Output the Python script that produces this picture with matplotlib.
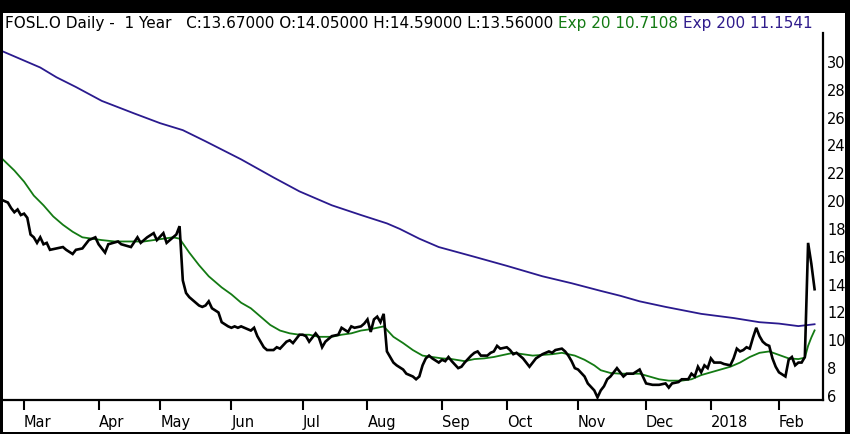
import numpy as np
import pandas as pd
import matplotlib
matplotlib.use("Agg")
import matplotlib.pyplot as plt
from matplotlib.patches import Rectangle

# ---------------- data ----------------
holidays = ["2017-02-20", "2017-04-14", "2017-05-29", "2017-07-04", "2017-09-04",
            "2017-11-23", "2017-12-25", "2018-01-01", "2018-01-15"]
start_date = "2017-02-17"
end_date = "2018-02-16"

close_day = [0, 2, 3, 4, 5, 6, 7, 8, 9, 10, 11, 12, 13, 14, 15, 17, 19, 20, 22, 23, 25, 27, 29, 30,
             32, 33, 36, 37, 40, 42, 43, 45, 47, 48, 50, 51, 53, 54, 55, 56, 57, 58, 60, 61, 62, 63,
             64, 65, 67, 68, 70, 71, 72, 73, 74, 75, 77, 78, 79, 81, 82, 84, 85, 86, 88, 89, 90, 92,
             93, 94, 95, 97, 98, 99, 100, 102, 104, 105, 107, 108, 109, 111, 112, 113, 114, 115, 116,
             117, 118, 119, 120, 121, 122, 124, 125, 127, 128, 129, 130, 131, 132, 133, 135, 136, 137,
             138, 139, 141, 142, 143, 145, 146, 147, 148, 150, 151, 152, 153, 154, 156, 157, 158, 159,
             161, 162, 163, 164, 165, 167, 168, 169, 170, 171, 173, 174, 175, 176, 177, 178, 180, 181,
             183, 184, 185, 186, 187, 188, 190, 191, 192, 193, 195, 197, 199, 201, 203, 205, 206, 207,
             209, 210, 212, 213, 214, 215, 216, 217, 218, 219, 220, 222, 223, 225, 226, 227, 228, 229,
             230, 231, 232, 233, 234, 235, 236, 237, 238, 239, 240, 242, 243, 244, 245, 246, 247, 248,
             249, 250, 251]
close_val = [20.1, 19.9, 19.5, 19.2, 19.4, 19.0, 19.1, 18.8, 17.6, 17.4, 17.0, 17.4, 16.9, 17.0, 16.5,
             16.6, 16.7, 16.5, 16.2, 16.5, 16.6, 17.2, 17.4, 16.9, 16.3, 16.9, 17.1, 16.9, 16.7, 17.4,
             17.0, 17.4, 17.7, 17.2, 17.7, 17.0, 17.4, 17.6, 18.2, 14.3, 13.4, 13.1, 12.7, 12.5, 12.4,
             12.5, 12.8, 12.3, 12.0, 11.3, 11.0, 10.9, 11.0, 10.9, 11.0, 10.9, 10.7, 10.9, 10.3, 9.5,
             9.3, 9.3, 9.5, 9.4, 9.9, 10.0, 9.8, 10.4, 10.4, 10.3, 9.9, 10.5, 10.2, 9.5, 9.9, 10.3,
             10.4, 10.9, 10.6, 11.0, 10.9, 11.0, 11.2, 11.5, 10.6, 11.5, 11.7, 11.3, 11.9, 9.2, 8.8,
             8.4, 8.2, 7.9, 7.6, 7.4, 7.2, 7.4, 8.2, 8.7, 8.9, 8.7, 8.4, 8.6, 8.5, 8.8, 8.5, 8.0, 8.1,
             8.4, 8.9, 9.1, 9.2, 8.9, 8.9, 9.1, 9.2, 9.6, 9.4, 9.5, 9.3, 9.0, 9.1, 8.7, 8.4, 8.1, 8.4,
             8.7, 9.0, 9.1, 9.2, 9.1, 9.3, 9.4, 9.2, 8.9, 8.5, 8.0, 7.9, 7.4, 6.9, 6.4, 5.9, 6.4, 6.7,
             7.2, 7.4, 8.0, 7.7, 7.4, 7.6, 7.6, 7.9, 6.9, 6.8, 6.8, 6.9, 6.6, 6.9, 7.0, 7.2, 7.2, 7.6,
             7.4, 8.1, 7.7, 8.2, 8.0, 8.7, 8.4, 8.4, 8.3, 8.2, 8.7, 9.4, 9.2, 9.3, 9.5, 9.4, 10.2, 10.9,
             10.3, 9.9, 9.7, 9.6, 8.7, 8.1, 7.7, 7.4, 8.6, 8.8, 8.2, 8.4, 8.4, 8.8, 17.0, 15.5, 13.67]

ema20_day = [0, 4, 7, 10, 13, 16, 19, 22, 25, 28, 31, 35, 38, 41, 44, 47, 50, 53, 55, 58, 61, 64, 68,
             71, 74, 77, 80, 83, 86, 89, 92, 95, 98, 102, 105, 108, 111, 114, 118, 121, 124, 127, 130,
             133, 136, 139, 143, 146, 149, 152, 155, 158, 161, 164, 167, 170, 173, 177, 180, 183, 185,
             188, 191, 194, 197, 200, 203, 206, 210, 213, 216, 219, 222, 225, 228, 231, 234, 237, 240,
             243, 246, 248, 249, 250, 251]
ema20_val = [23.1, 22.2, 21.4, 20.4, 19.7, 18.9, 18.3, 17.8, 17.4, 17.3, 17.2, 17.1, 17.1, 17.1, 17.1,
             17.2, 17.3, 17.4, 17.3, 16.3, 15.4, 14.6, 13.8, 13.3, 12.7, 12.3, 11.7, 11.1, 10.7, 10.5,
             10.4, 10.4, 10.25, 10.25, 10.4, 10.5, 10.7, 10.8, 11.0, 10.25, 9.8, 9.3, 8.9, 8.8, 8.7,
             8.65, 8.5, 8.65, 8.7, 8.8, 8.95, 9.1, 9.0, 8.9, 8.95, 9.0, 9.1, 8.9, 8.6, 8.2, 7.85, 7.65,
             7.6, 7.6, 7.6, 7.4, 7.2, 7.1, 7.1, 7.2, 7.5, 7.7, 7.9, 8.1, 8.4, 8.8, 9.1, 9.2, 8.95, 8.7,
             8.65, 8.75, 9.6, 10.2, 10.7108]

ema200_day = [0, 7, 12, 17, 23, 31, 41, 49, 56, 63, 74, 84, 92, 102, 111, 119, 123, 129, 135, 146, 156,
              167, 176, 185, 191, 197, 205, 216, 226, 234, 240, 246, 249, 251]
ema200_val = [30.8, 30.1, 29.6, 28.9, 28.2, 27.2, 26.3, 25.6, 25.1, 24.3, 23.0, 21.7, 20.7, 19.7, 19.0,
              18.4, 18.0, 17.3, 16.7, 16.0, 15.35, 14.6, 14.1, 13.55, 13.2, 12.8, 12.4, 11.9, 11.6,
              11.3, 11.2, 11.02, 11.1, 11.1541]

month_labels = ["Mar", "Apr", "May", "Jun", "Jul", "Aug", "Sep", "Oct", "Nov", "Dec", "2018", "Feb"]
y_ticks = [6, 8, 10, 12, 14, 16, 18, 20, 22, 24, 26, 28, 30]

title_parts = [
    ("FOSL.O Daily -  1 Year   C:13.67000 O:14.05000 H:14.59000 L:13.56000", "black"),
    ("Exp 20 10.7108", "#137a13"),
    ("Exp 200 11.1541", "#301c8c"),
]

# ---------------- sessions / ticks ----------------
sessions = pd.bdate_range(start_date, end_date)
sessions = sessions[~sessions.isin(pd.to_datetime(holidays))]
month_starts = pd.date_range("2017-03-01", "2018-02-01", freq="MS")
tick_pos = [int(np.searchsorted(sessions.values, m.to_datetime64())) for m in month_starts]

# ---------------- figure ----------------
W, H = 850, 434
fig = plt.figure(figsize=(W / 100, H / 100), dpi=100, facecolor="black")
fig.add_artist(Rectangle((3 / W, 2 / H), 842 / W, 419 / H, transform=fig.transFigure,
                         facecolor="white", edgecolor="none", zorder=0))

ax = fig.add_axes([3 / W, 34 / H, 820 / W, 367 / H])
ax.set_facecolor("white")
ax.set_zorder(1)

ax.plot(ema200_day, ema200_val, color="#2a1a8e", lw=1.3, zorder=2)
ax.plot(ema20_day, ema20_val, color="#137a13", lw=1.3, zorder=3)
ax.plot(close_day, close_val, color="black", lw=1.9, zorder=4, solid_joinstyle="miter")

ax.set_xlim(0.5, 253.6)
ax.set_ylim(5.71, 32.08)

for s in ["left", "top"]:
    ax.spines[s].set_visible(False)
for s in ["right", "bottom"]:
    ax.spines[s].set_linewidth(1.6)
    ax.spines[s].set_color("black")

ax.yaxis.tick_right()
ax.set_yticks(y_ticks)
ax.set_yticklabels([str(v) for v in y_ticks])
ax.tick_params(axis="y", length=0, pad=3, labelsize=10.5, colors="black")

ax.set_xticks(tick_pos)
ax.set_xticklabels(month_labels)
ax.tick_params(axis="x", length=7, width=1.5, direction="out", pad=4, labelsize=10.5)
for lab in ax.get_xticklabels():
    lab.set_horizontalalignment("left")

# ---------------- multicolour header ----------------
renderer = fig.canvas.get_renderer()
fs_title = 11
probe1 = fig.text(0, 0, "a a", fontsize=fs_title)
probe2 = fig.text(0, 0, "aa", fontsize=fs_title)
space_w = probe1.get_window_extent(renderer).width - probe2.get_window_extent(renderer).width
probe1.remove()
probe2.remove()

x_px = 5
y_fig = (H - 28) / H
for txt, col in title_parts:
    t = fig.text(x_px / W, y_fig, txt, color=col, fontsize=fs_title, ha="left", va="baseline")
    bb = t.get_window_extent(renderer)
    x_px = bb.x1 + space_w

fig.savefig("out.png", dpi=100, facecolor="black")
